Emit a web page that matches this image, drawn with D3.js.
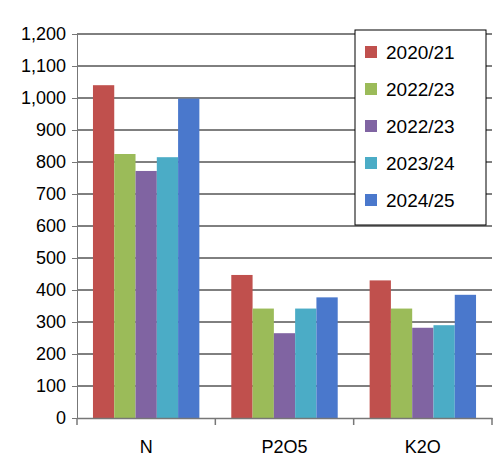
<!DOCTYPE html>
<html><head><meta charset="utf-8">
<script src="https://cdn.jsdelivr.net/npm/d3@7"></script>
<style>body{margin:0;background:#fff}text{font-family:"Liberation Sans",Arial,sans-serif}</style>
</head><body>
<svg id="c" width="502" height="463"></svg>
<script>
const categories = ["N", "P2O5", "K2O"];
const seriesNames = ["2020/21", "2022/23", "2022/23", "2023/24", "2024/25"];
const seriesValues = [
  [1040, 447, 430],
  [825, 342, 342],
  [772, 265, 282],
  [815, 342, 290],
  [998, 377, 385]
];
const colors = ["#C0504D", "#9BBB59", "#8064A2", "#4BACC6", "#4A78CC"];
const yTicks = d3.range(0, 1201, 100);

const svg = d3.select("#c");
const m = {l: 77, r: 492, t: 34, b: 418};
const x = d3.scaleBand().domain(categories).range([m.l, m.r]);
const xs = d3.scaleBand().domain(d3.range(seriesNames.length)).range([0, x.bandwidth()]).paddingOuter(0.75);
const y = d3.scaleLinear().domain([0, 1200]).range([m.b, m.t]);

svg.append("g").selectAll("line").data(yTicks.slice(1)).join("line")
  .attr("x1", m.l).attr("x2", m.r).attr("y1", d => y(d)).attr("y2", d => y(d))
  .attr("stroke", "#000").attr("stroke-width", 1);

seriesValues.forEach((vals, i) => {
  svg.append("g").selectAll("rect").data(vals).join("rect")
    .attr("x", (d, j) => x(categories[j]) + xs(i))
    .attr("width", xs.bandwidth())
    .attr("y", d => y(d)).attr("height", d => y(0) - y(d))
    .attr("fill", colors[i]);
});

const ya = svg.append("g").attr("transform", `translate(${m.l},0)`)
  .call(d3.axisLeft(y).tickValues(yTicks).tickSize(5).tickPadding(6));
ya.select(".domain").attr("stroke", "#777");
ya.selectAll("line").attr("stroke", "#777");
ya.selectAll("text").attr("font-size", 18).attr("fill", "#000");

const xa = svg.append("g").attr("transform", `translate(0,${m.b})`)
  .call(d3.axisBottom(x).tickSize(0).tickPadding(22).tickSizeOuter(0));
xa.select(".domain").attr("stroke", "#777").attr("stroke-width", 1.5);
xa.selectAll("text").attr("font-size", 18).attr("fill", "#000");
svg.append("g").selectAll("line").data(d3.range(categories.length + 1)).join("line")
  .attr("x1", i => m.l + i * x.step()).attr("x2", i => m.l + i * x.step())
  .attr("y1", m.b).attr("y2", m.b + 7).attr("stroke", "#777").attr("stroke-width", 1.5);

const lg = svg.append("g").attr("transform", "translate(355,30)");
lg.append("rect").attr("width", 131).attr("height", 195).attr("fill", "#fff").attr("stroke", "#000");
seriesNames.forEach((n, i) => {
  const row = lg.append("g").attr("transform", `translate(10,${22 + i * 37})`);
  row.append("rect").attr("y", -6).attr("width", 12).attr("height", 12).attr("fill", colors[i]);
  row.append("text").attr("x", 21).attr("y", 7).attr("font-size", 19).text(n);
});
</script>
</body></html>
